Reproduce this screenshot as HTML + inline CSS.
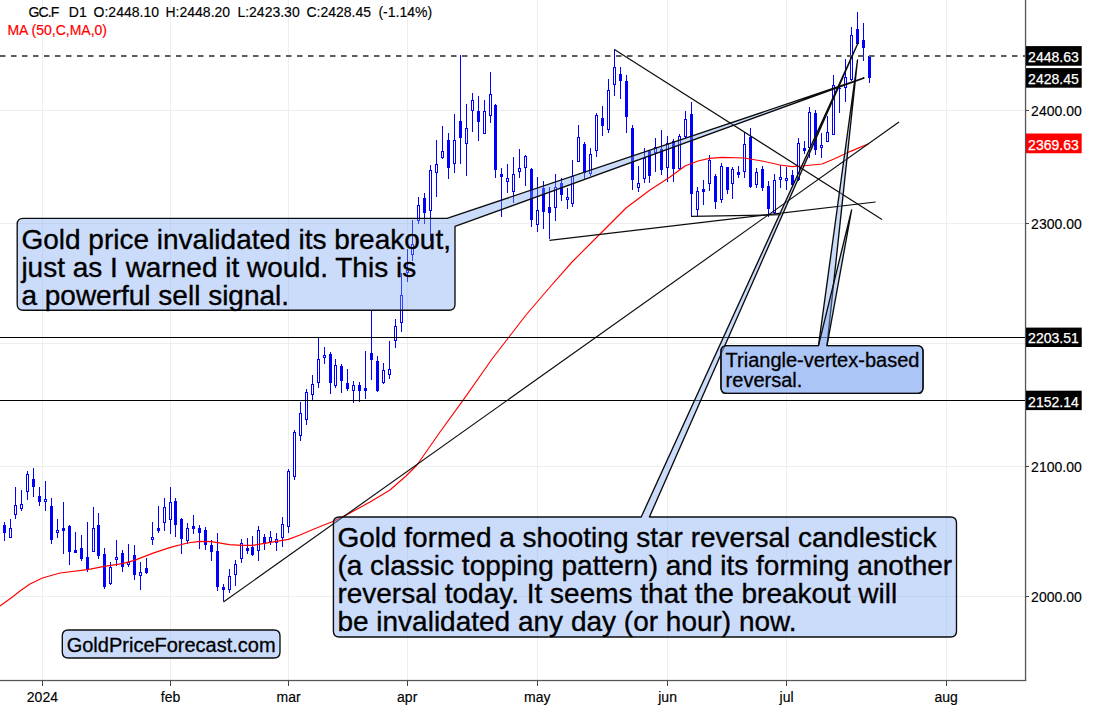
<!DOCTYPE html>
<html lang="en"><head><meta charset="utf-8"><title>GC.F D1 - Gold Price Forecast</title>
<style>html,body{margin:0;padding:0;background:#fff}body{width:1110px;height:710px;overflow:hidden}svg{display:block}text{font-family:"Liberation Sans", Arial, Helvetica, sans-serif}</style></head><body>
<svg width="1110" height="710" viewBox="0 0 1110 710">
<rect width="1110" height="710" fill="#fff"/>
<g fill="#eeeeee" shape-rendering="crispEdges">
<rect x="42" y="0" width="1" height="680"/>
<rect x="170" y="0" width="1" height="680"/>
<rect x="288" y="0" width="1" height="680"/>
<rect x="407" y="0" width="1" height="680"/>
<rect x="537" y="0" width="1" height="680"/>
<rect x="667" y="0" width="1" height="680"/>
<rect x="786" y="0" width="1" height="680"/>
<rect x="946" y="0" width="1" height="680"/>
<rect x="0" y="110" width="1025" height="1"/>
<rect x="0" y="223" width="1025" height="1"/>
<rect x="0" y="343" width="1025" height="1"/>
<rect x="0" y="466" width="1025" height="1"/>
<rect x="0" y="596" width="1025" height="1"/>
</g>
<g shape-rendering="crispEdges" fill="#0000ff">
<rect x="4" y="522" width="1" height="19"/>
<rect x="3" y="525" width="3" height="8"/>
<rect x="10" y="519" width="1" height="19"/>
<rect x="9" y="528" width="3" height="10"/>
<rect x="10" y="529" width="1" height="8" fill="#fff"/>
<rect x="15" y="487" width="1" height="32"/>
<rect x="14" y="505" width="3" height="10"/>
<rect x="15" y="506" width="1" height="8" fill="#fff"/>
<rect x="21" y="490" width="1" height="21"/>
<rect x="20" y="504" width="3" height="5"/>
<rect x="21" y="505" width="1" height="3" fill="#fff"/>
<rect x="27" y="471" width="1" height="29"/>
<rect x="26" y="474" width="3" height="18"/>
<rect x="27" y="475" width="1" height="16" fill="#fff"/>
<rect x="33" y="468" width="1" height="29"/>
<rect x="32" y="479" width="3" height="8"/>
<rect x="39" y="487" width="1" height="19"/>
<rect x="38" y="496" width="3" height="6"/>
<rect x="45" y="481" width="1" height="30"/>
<rect x="44" y="499" width="3" height="3"/>
<rect x="45" y="500" width="1" height="1" fill="#fff"/>
<rect x="51" y="498" width="1" height="46"/>
<rect x="50" y="506" width="3" height="34"/>
<rect x="57" y="519" width="1" height="19"/>
<rect x="56" y="530" width="3" height="3"/>
<rect x="57" y="531" width="1" height="1" fill="#fff"/>
<rect x="63" y="502" width="1" height="52"/>
<rect x="62" y="528" width="3" height="3"/>
<rect x="69" y="525" width="1" height="40"/>
<rect x="68" y="526" width="3" height="26"/>
<rect x="75" y="532" width="1" height="21"/>
<rect x="74" y="550" width="3" height="3"/>
<rect x="81" y="535" width="1" height="26"/>
<rect x="80" y="548" width="3" height="11"/>
<rect x="87" y="522" width="1" height="50"/>
<rect x="86" y="557" width="3" height="13"/>
<rect x="93" y="507" width="1" height="45"/>
<rect x="92" y="528" width="3" height="24"/>
<rect x="93" y="529" width="1" height="22" fill="#fff"/>
<rect x="98" y="513" width="1" height="46"/>
<rect x="97" y="525" width="3" height="31"/>
<rect x="104" y="548" width="1" height="41"/>
<rect x="103" y="554" width="3" height="33"/>
<rect x="110" y="562" width="1" height="23"/>
<rect x="109" y="567" width="3" height="17"/>
<rect x="110" y="568" width="1" height="15" fill="#fff"/>
<rect x="116" y="540" width="1" height="26"/>
<rect x="115" y="557" width="3" height="3"/>
<rect x="116" y="558" width="1" height="1" fill="#fff"/>
<rect x="122" y="550" width="1" height="22"/>
<rect x="121" y="553" width="3" height="14"/>
<rect x="128" y="544" width="1" height="23"/>
<rect x="127" y="562" width="3" height="3"/>
<rect x="128" y="563" width="1" height="1" fill="#fff"/>
<rect x="134" y="545" width="1" height="35"/>
<rect x="133" y="555" width="3" height="20"/>
<rect x="140" y="562" width="1" height="28"/>
<rect x="139" y="572" width="3" height="4"/>
<rect x="140" y="573" width="1" height="2" fill="#fff"/>
<rect x="146" y="558" width="1" height="16"/>
<rect x="145" y="568" width="3" height="5"/>
<rect x="152" y="522" width="1" height="23"/>
<rect x="151" y="537" width="3" height="3"/>
<rect x="152" y="538" width="1" height="1" fill="#fff"/>
<rect x="158" y="506" width="1" height="27"/>
<rect x="157" y="528" width="3" height="3"/>
<rect x="164" y="498" width="1" height="33"/>
<rect x="163" y="507" width="3" height="16"/>
<rect x="164" y="508" width="1" height="14" fill="#fff"/>
<rect x="170" y="487" width="1" height="47"/>
<rect x="169" y="502" width="3" height="18"/>
<rect x="170" y="503" width="1" height="16" fill="#fff"/>
<rect x="175" y="498" width="1" height="39"/>
<rect x="174" y="501" width="3" height="24"/>
<rect x="181" y="518" width="1" height="36"/>
<rect x="180" y="519" width="3" height="20"/>
<rect x="187" y="523" width="1" height="21"/>
<rect x="186" y="528" width="3" height="13"/>
<rect x="187" y="529" width="1" height="11" fill="#fff"/>
<rect x="193" y="515" width="1" height="19"/>
<rect x="192" y="526" width="3" height="3"/>
<rect x="199" y="525" width="1" height="24"/>
<rect x="198" y="528" width="3" height="5"/>
<rect x="205" y="527" width="1" height="23"/>
<rect x="204" y="530" width="3" height="15"/>
<rect x="211" y="540" width="1" height="21"/>
<rect x="210" y="545" width="3" height="7"/>
<rect x="217" y="533" width="1" height="58"/>
<rect x="216" y="551" width="3" height="36"/>
<rect x="223" y="584" width="1" height="17"/>
<rect x="222" y="587" width="3" height="3"/>
<rect x="229" y="569" width="1" height="24"/>
<rect x="228" y="576" width="3" height="14"/>
<rect x="229" y="577" width="1" height="12" fill="#fff"/>
<rect x="235" y="560" width="1" height="26"/>
<rect x="234" y="564" width="3" height="11"/>
<rect x="235" y="565" width="1" height="9" fill="#fff"/>
<rect x="241" y="539" width="1" height="24"/>
<rect x="240" y="543" width="3" height="16"/>
<rect x="241" y="544" width="1" height="14" fill="#fff"/>
<rect x="247" y="538" width="1" height="16"/>
<rect x="246" y="548" width="3" height="3"/>
<rect x="252" y="536" width="1" height="20"/>
<rect x="251" y="547" width="3" height="8"/>
<rect x="258" y="526" width="1" height="35"/>
<rect x="257" y="530" width="3" height="21"/>
<rect x="258" y="531" width="1" height="19" fill="#fff"/>
<rect x="264" y="534" width="1" height="16"/>
<rect x="263" y="537" width="3" height="7"/>
<rect x="270" y="531" width="1" height="14"/>
<rect x="269" y="537" width="3" height="5"/>
<rect x="270" y="538" width="1" height="3" fill="#fff"/>
<rect x="276" y="533" width="1" height="18"/>
<rect x="275" y="539" width="3" height="4"/>
<rect x="276" y="540" width="1" height="2" fill="#fff"/>
<rect x="282" y="517" width="1" height="30"/>
<rect x="281" y="524" width="3" height="14"/>
<rect x="282" y="525" width="1" height="12" fill="#fff"/>
<rect x="288" y="469" width="1" height="64"/>
<rect x="287" y="471" width="3" height="56"/>
<rect x="288" y="472" width="1" height="54" fill="#fff"/>
<rect x="294" y="430" width="1" height="50"/>
<rect x="293" y="432" width="3" height="45"/>
<rect x="294" y="433" width="1" height="43" fill="#fff"/>
<rect x="300" y="402" width="1" height="39"/>
<rect x="299" y="413" width="3" height="23"/>
<rect x="300" y="414" width="1" height="21" fill="#fff"/>
<rect x="306" y="389" width="1" height="36"/>
<rect x="305" y="392" width="3" height="28"/>
<rect x="306" y="393" width="1" height="26" fill="#fff"/>
<rect x="312" y="375" width="1" height="25"/>
<rect x="311" y="384" width="3" height="11"/>
<rect x="312" y="385" width="1" height="9" fill="#fff"/>
<rect x="318" y="338" width="1" height="50"/>
<rect x="317" y="359" width="3" height="24"/>
<rect x="318" y="360" width="1" height="22" fill="#fff"/>
<rect x="324" y="347" width="1" height="17"/>
<rect x="323" y="355" width="3" height="3"/>
<rect x="324" y="356" width="1" height="1" fill="#fff"/>
<rect x="330" y="352" width="1" height="42"/>
<rect x="329" y="354" width="3" height="29"/>
<rect x="335" y="359" width="1" height="29"/>
<rect x="334" y="365" width="3" height="21"/>
<rect x="335" y="366" width="1" height="19" fill="#fff"/>
<rect x="341" y="364" width="1" height="29"/>
<rect x="340" y="366" width="3" height="15"/>
<rect x="347" y="369" width="1" height="22"/>
<rect x="346" y="383" width="3" height="6"/>
<rect x="353" y="381" width="1" height="22"/>
<rect x="352" y="385" width="3" height="6"/>
<rect x="353" y="386" width="1" height="4" fill="#fff"/>
<rect x="359" y="382" width="1" height="20"/>
<rect x="358" y="385" width="3" height="6"/>
<rect x="365" y="351" width="1" height="48"/>
<rect x="364" y="388" width="3" height="3"/>
<rect x="371" y="311" width="1" height="69"/>
<rect x="370" y="353" width="3" height="7"/>
<rect x="377" y="356" width="1" height="36"/>
<rect x="376" y="361" width="3" height="30"/>
<rect x="383" y="363" width="1" height="21"/>
<rect x="382" y="370" width="3" height="13"/>
<rect x="383" y="371" width="1" height="11" fill="#fff"/>
<rect x="389" y="341" width="1" height="38"/>
<rect x="388" y="369" width="3" height="6"/>
<rect x="389" y="370" width="1" height="4" fill="#fff"/>
<rect x="395" y="319" width="1" height="29"/>
<rect x="394" y="326" width="3" height="15"/>
<rect x="395" y="327" width="1" height="13" fill="#fff"/>
<rect x="401" y="273" width="1" height="59"/>
<rect x="400" y="295" width="3" height="28"/>
<rect x="401" y="296" width="1" height="26" fill="#fff"/>
<rect x="407" y="249" width="1" height="33"/>
<rect x="406" y="270" width="3" height="3"/>
<rect x="407" y="271" width="1" height="1" fill="#fff"/>
<rect x="412" y="220" width="1" height="41"/>
<rect x="411" y="244" width="3" height="11"/>
<rect x="412" y="245" width="1" height="9" fill="#fff"/>
<rect x="418" y="197" width="1" height="27"/>
<rect x="417" y="205" width="3" height="16"/>
<rect x="418" y="206" width="1" height="14" fill="#fff"/>
<rect x="424" y="193" width="1" height="31"/>
<rect x="423" y="198" width="3" height="15"/>
<rect x="430" y="165" width="1" height="76"/>
<rect x="429" y="170" width="3" height="41"/>
<rect x="430" y="171" width="1" height="39" fill="#fff"/>
<rect x="436" y="140" width="1" height="57"/>
<rect x="435" y="164" width="3" height="9"/>
<rect x="436" y="165" width="1" height="7" fill="#fff"/>
<rect x="442" y="126" width="1" height="33"/>
<rect x="441" y="151" width="3" height="7"/>
<rect x="442" y="152" width="1" height="5" fill="#fff"/>
<rect x="448" y="133" width="1" height="46"/>
<rect x="447" y="140" width="3" height="28"/>
<rect x="454" y="114" width="1" height="59"/>
<rect x="453" y="140" width="3" height="24"/>
<rect x="454" y="141" width="1" height="22" fill="#fff"/>
<rect x="460" y="55" width="1" height="109"/>
<rect x="459" y="121" width="3" height="17"/>
<rect x="466" y="104" width="1" height="72"/>
<rect x="465" y="128" width="3" height="16"/>
<rect x="466" y="129" width="1" height="14" fill="#fff"/>
<rect x="472" y="93" width="1" height="39"/>
<rect x="471" y="100" width="3" height="11"/>
<rect x="472" y="101" width="1" height="9" fill="#fff"/>
<rect x="478" y="96" width="1" height="45"/>
<rect x="477" y="111" width="3" height="11"/>
<rect x="484" y="100" width="1" height="34"/>
<rect x="483" y="111" width="3" height="23"/>
<rect x="484" y="112" width="1" height="21" fill="#fff"/>
<rect x="490" y="72" width="1" height="51"/>
<rect x="489" y="94" width="3" height="22"/>
<rect x="490" y="95" width="1" height="20" fill="#fff"/>
<rect x="495" y="104" width="1" height="74"/>
<rect x="494" y="105" width="3" height="65"/>
<rect x="501" y="168" width="1" height="49"/>
<rect x="500" y="174" width="3" height="3"/>
<rect x="507" y="164" width="1" height="29"/>
<rect x="506" y="178" width="3" height="4"/>
<rect x="507" y="179" width="1" height="2" fill="#fff"/>
<rect x="513" y="157" width="1" height="46"/>
<rect x="512" y="174" width="3" height="18"/>
<rect x="513" y="175" width="1" height="16" fill="#fff"/>
<rect x="519" y="149" width="1" height="29"/>
<rect x="518" y="168" width="3" height="4"/>
<rect x="519" y="169" width="1" height="2" fill="#fff"/>
<rect x="525" y="155" width="1" height="31"/>
<rect x="524" y="156" width="3" height="12"/>
<rect x="525" y="157" width="1" height="10" fill="#fff"/>
<rect x="531" y="168" width="1" height="59"/>
<rect x="530" y="169" width="3" height="51"/>
<rect x="537" y="177" width="1" height="55"/>
<rect x="536" y="210" width="3" height="15"/>
<rect x="537" y="211" width="1" height="13" fill="#fff"/>
<rect x="543" y="181" width="1" height="48"/>
<rect x="542" y="188" width="3" height="24"/>
<rect x="549" y="187" width="1" height="52"/>
<rect x="548" y="207" width="3" height="6"/>
<rect x="555" y="174" width="1" height="47"/>
<rect x="554" y="187" width="3" height="21"/>
<rect x="555" y="188" width="1" height="19" fill="#fff"/>
<rect x="561" y="178" width="1" height="23"/>
<rect x="560" y="183" width="3" height="12"/>
<rect x="567" y="188" width="1" height="21"/>
<rect x="566" y="197" width="3" height="3"/>
<rect x="567" y="198" width="1" height="1" fill="#fff"/>
<rect x="572" y="160" width="1" height="47"/>
<rect x="571" y="176" width="3" height="28"/>
<rect x="572" y="177" width="1" height="26" fill="#fff"/>
<rect x="578" y="125" width="1" height="37"/>
<rect x="577" y="137" width="3" height="25"/>
<rect x="578" y="138" width="1" height="23" fill="#fff"/>
<rect x="584" y="142" width="1" height="37"/>
<rect x="583" y="144" width="3" height="29"/>
<rect x="590" y="148" width="1" height="28"/>
<rect x="589" y="154" width="3" height="20"/>
<rect x="590" y="155" width="1" height="18" fill="#fff"/>
<rect x="596" y="113" width="1" height="44"/>
<rect x="595" y="115" width="3" height="36"/>
<rect x="596" y="116" width="1" height="34" fill="#fff"/>
<rect x="602" y="106" width="1" height="30"/>
<rect x="601" y="118" width="3" height="8"/>
<rect x="608" y="79" width="1" height="54"/>
<rect x="607" y="90" width="3" height="40"/>
<rect x="608" y="91" width="1" height="38" fill="#fff"/>
<rect x="614" y="49" width="1" height="47"/>
<rect x="613" y="67" width="3" height="18"/>
<rect x="614" y="68" width="1" height="16" fill="#fff"/>
<rect x="620" y="67" width="1" height="32"/>
<rect x="619" y="74" width="3" height="7"/>
<rect x="626" y="75" width="1" height="58"/>
<rect x="625" y="81" width="3" height="36"/>
<rect x="632" y="125" width="1" height="65"/>
<rect x="631" y="128" width="3" height="52"/>
<rect x="638" y="166" width="1" height="26"/>
<rect x="637" y="183" width="3" height="5"/>
<rect x="638" y="184" width="1" height="3" fill="#fff"/>
<rect x="644" y="148" width="1" height="35"/>
<rect x="643" y="158" width="3" height="21"/>
<rect x="644" y="159" width="1" height="19" fill="#fff"/>
<rect x="649" y="150" width="1" height="33"/>
<rect x="648" y="151" width="3" height="25"/>
<rect x="655" y="138" width="1" height="34"/>
<rect x="654" y="147" width="3" height="6"/>
<rect x="655" y="148" width="1" height="4" fill="#fff"/>
<rect x="661" y="130" width="1" height="45"/>
<rect x="660" y="149" width="3" height="21"/>
<rect x="667" y="136" width="1" height="46"/>
<rect x="666" y="143" width="3" height="25"/>
<rect x="667" y="144" width="1" height="23" fill="#fff"/>
<rect x="673" y="139" width="1" height="43"/>
<rect x="672" y="141" width="3" height="28"/>
<rect x="679" y="134" width="1" height="36"/>
<rect x="678" y="136" width="3" height="33"/>
<rect x="679" y="137" width="1" height="31" fill="#fff"/>
<rect x="685" y="111" width="1" height="28"/>
<rect x="684" y="119" width="3" height="18"/>
<rect x="685" y="120" width="1" height="16" fill="#fff"/>
<rect x="691" y="102" width="1" height="115"/>
<rect x="690" y="114" width="3" height="80"/>
<rect x="697" y="187" width="1" height="30"/>
<rect x="696" y="191" width="3" height="19"/>
<rect x="697" y="192" width="1" height="17" fill="#fff"/>
<rect x="703" y="180" width="1" height="25"/>
<rect x="702" y="189" width="3" height="3"/>
<rect x="709" y="155" width="1" height="36"/>
<rect x="708" y="160" width="3" height="24"/>
<rect x="709" y="161" width="1" height="22" fill="#fff"/>
<rect x="715" y="174" width="1" height="35"/>
<rect x="714" y="176" width="3" height="26"/>
<rect x="721" y="163" width="1" height="40"/>
<rect x="720" y="166" width="3" height="34"/>
<rect x="721" y="167" width="1" height="32" fill="#fff"/>
<rect x="727" y="167" width="1" height="27"/>
<rect x="726" y="167" width="3" height="23"/>
<rect x="732" y="167" width="1" height="32"/>
<rect x="731" y="169" width="3" height="15"/>
<rect x="732" y="170" width="1" height="13" fill="#fff"/>
<rect x="738" y="166" width="1" height="12"/>
<rect x="737" y="172" width="3" height="3"/>
<rect x="744" y="132" width="1" height="46"/>
<rect x="743" y="144" width="3" height="28"/>
<rect x="744" y="145" width="1" height="26" fill="#fff"/>
<rect x="750" y="128" width="1" height="60"/>
<rect x="749" y="137" width="3" height="50"/>
<rect x="756" y="168" width="1" height="20"/>
<rect x="755" y="172" width="3" height="13"/>
<rect x="756" y="173" width="1" height="11" fill="#fff"/>
<rect x="762" y="166" width="1" height="25"/>
<rect x="761" y="169" width="3" height="19"/>
<rect x="768" y="181" width="1" height="36"/>
<rect x="767" y="186" width="3" height="23"/>
<rect x="774" y="174" width="1" height="40"/>
<rect x="773" y="180" width="3" height="33"/>
<rect x="774" y="181" width="1" height="31" fill="#fff"/>
<rect x="780" y="165" width="1" height="23"/>
<rect x="779" y="177" width="3" height="3"/>
<rect x="780" y="178" width="1" height="1" fill="#fff"/>
<rect x="786" y="167" width="1" height="23"/>
<rect x="785" y="178" width="3" height="3"/>
<rect x="786" y="179" width="1" height="1" fill="#fff"/>
<rect x="792" y="170" width="1" height="16"/>
<rect x="791" y="175" width="3" height="10"/>
<rect x="798" y="138" width="1" height="43"/>
<rect x="797" y="143" width="3" height="37"/>
<rect x="798" y="144" width="1" height="35" fill="#fff"/>
<rect x="804" y="141" width="1" height="13"/>
<rect x="803" y="148" width="3" height="3"/>
<rect x="809" y="107" width="1" height="51"/>
<rect x="808" y="112" width="3" height="36"/>
<rect x="809" y="113" width="1" height="34" fill="#fff"/>
<rect x="815" y="110" width="1" height="45"/>
<rect x="814" y="113" width="3" height="37"/>
<rect x="821" y="133" width="1" height="25"/>
<rect x="820" y="145" width="3" height="3"/>
<rect x="821" y="146" width="1" height="1" fill="#fff"/>
<rect x="827" y="116" width="1" height="26"/>
<rect x="826" y="132" width="3" height="10"/>
<rect x="827" y="133" width="1" height="8" fill="#fff"/>
<rect x="833" y="75" width="1" height="60"/>
<rect x="832" y="85" width="3" height="50"/>
<rect x="833" y="86" width="1" height="48" fill="#fff"/>
<rect x="839" y="87" width="1" height="26"/>
<rect x="838" y="88" width="3" height="1"/>
<rect x="845" y="59" width="1" height="43"/>
<rect x="844" y="77" width="3" height="11"/>
<rect x="845" y="78" width="1" height="9" fill="#fff"/>
<rect x="851" y="27" width="1" height="54"/>
<rect x="850" y="35" width="3" height="45"/>
<rect x="851" y="36" width="1" height="43" fill="#fff"/>
<rect x="857" y="12" width="1" height="32"/>
<rect x="856" y="29" width="3" height="15"/>
<rect x="863" y="23" width="1" height="38"/>
<rect x="862" y="40" width="3" height="8"/>
<rect x="869" y="56" width="1" height="27"/>
<rect x="868" y="56" width="3" height="22"/>
</g>
<polyline fill="none" stroke="#ff0000" stroke-width="1.15" stroke-linejoin="round" points="0.0,606.0 12.4,597.0 20.0,591.0 30.0,584.0 42.4,578.0 60.0,573.0 87.4,569.6 104.4,566.4 122.4,563.6 134.4,560.4 152.4,553.4 170.4,547.4 187.4,543.0 199.4,541.4 211.4,541.6 217.4,542.6 229.4,544.6 241.4,545.4 252.4,545.4 264.4,543.4 276.4,541.4 288.4,539.4 300.0,535.0 314.0,529.0 334.0,521.0 350.0,513.0 370.0,502.0 390.0,490.0 406.0,476.0 417.0,465.0 440.0,432.0 463.0,400.4 492.0,359.0 509.0,337.0 526.0,315.0 550.0,287.0 572.0,262.0 599.0,235.0 626.0,208.0 650.0,190.0 670.0,177.0 685.0,166.0 698.0,161.0 709.4,158.4 722.0,157.4 744.0,158.0 762.0,161.0 780.0,165.0 792.0,166.6 802.0,166.0 822.0,164.0 834.0,159.0 850.0,151.6 869.0,143.5"/>
<line x1="0" y1="56" x2="1025" y2="56" stroke="#5c5c5c" stroke-width="2" stroke-dasharray="5.5 5.5"/>
<g fill="#000" shape-rendering="crispEdges"><rect x="0" y="337" width="1025" height="1"/><rect x="0" y="400" width="1025" height="1"/></g>
<g stroke="#0c0c0c" stroke-width="1.15" fill="none" stroke-linecap="butt">
<line x1="223.4" y1="602.0" x2="899.0" y2="122.0"/>
<line x1="614.4" y1="49.4" x2="882.0" y2="219.6"/>
<line x1="549.4" y1="240.4" x2="875.6" y2="202.0"/>
<line x1="691.4" y1="216.4" x2="781.0" y2="214.8"/>
</g>
<path d="M23.2,218.4 L447.0,218.4 L864.0,78.0 L455.0,226.4 L455.0,304.2 Q455.0,310.2 449.0,310.2 L23.2,310.2 Q17.2,310.2 17.2,304.2 L17.2,224.4 Q17.2,218.4 23.2,218.4 Z" fill="rgba(125,165,242,0.4)" stroke="#0c0c0c" stroke-width="1.35" stroke-linejoin="round"/>
<path d="M339.4,517.0 L641.2,517.0 L858.0,43.0 L649.4,517.0 L950.5,517.0 Q956.5,517.0 956.5,523.0 L956.5,631.0 Q956.5,637.0 950.5,637.0 L339.4,637.0 Q333.4,637.0 333.4,631.0 L333.4,523.0 Q333.4,517.0 339.4,517.0 Z" fill="rgba(125,165,242,0.4)" stroke="#0c0c0c" stroke-width="1.35" stroke-linejoin="round"/>
<path d="M727.0,345.6 L818.5,345.6 L857.5,60.0 L827.0,345.6 L917.0,345.6 Q923.0,345.6 923.0,351.6 L923.0,387.4 Q923.0,393.4 917.0,393.4 L727.0,393.4 Q721.0,393.4 721.0,387.4 L721.0,351.6 Q721.0,345.6 727.0,345.6 Z" fill="rgba(125,165,242,0.4)" stroke="#0c0c0c" stroke-width="1.35" stroke-linejoin="round"/>
<path d="M727.0,345.6 L818.5,345.6 L851.6,210.0 L827.0,345.6 L917.0,345.6 Q923.0,345.6 923.0,351.6 L923.0,387.4 Q923.0,393.4 917.0,393.4 L727.0,393.4 Q721.0,393.4 721.0,387.4 L721.0,351.6 Q721.0,345.6 727.0,345.6 Z" fill="rgba(125,165,242,0.4)" stroke="#0c0c0c" stroke-width="1.35" stroke-linejoin="round"/>
<path d="M68.3,630.0 L274.0,630.0 Q280.0,630.0 280.0,636.0 L280.0,652.0 Q280.0,658.0 274.0,658.0 L68.3,658.0 Q62.3,658.0 62.3,652.0 L62.3,636.0 Q62.3,630.0 68.3,630.0 Z" fill="rgba(125,165,242,0.4)" stroke="#0c0c0c" stroke-width="1.35" stroke-linejoin="round"/>
<text x="21.4" y="248.5" font-size="28" fill="#000" text-anchor="start" stroke="#000" stroke-width="0.35">Gold price invalidated its breakout,</text>
<text x="21.4" y="276.5" font-size="28" fill="#000" text-anchor="start" stroke="#000" stroke-width="0.35">just as I warned it would. This is</text>
<text x="21.4" y="304.5" font-size="28" fill="#000" text-anchor="start" stroke="#000" stroke-width="0.35">a powerful sell signal.</text>
<text x="337.4" y="546.6" font-size="28" fill="#000" text-anchor="start" stroke="#000" stroke-width="0.35">Gold formed a shooting star reversal candlestick</text>
<text x="337.4" y="574.6" font-size="28" fill="#000" text-anchor="start" stroke="#000" stroke-width="0.35">(a classic topping pattern) and its forming another</text>
<text x="337.4" y="602.6" font-size="28" fill="#000" text-anchor="start" stroke="#000" stroke-width="0.35">reversal today. It seems that the breakout will</text>
<text x="337.4" y="630.6" font-size="28" fill="#000" text-anchor="start" stroke="#000" stroke-width="0.35">be invalidated any day (or hour) now.</text>
<text x="725.6" y="367.4" font-size="20" fill="#000" text-anchor="start" stroke="#000" stroke-width="0.3">Triangle-vertex-based</text>
<text x="725.6" y="387.4" font-size="20" fill="#000" text-anchor="start" stroke="#000" stroke-width="0.3">reversal.</text>
<text x="66.7" y="652.2" font-size="20" fill="#000" text-anchor="start" stroke="#000" stroke-width="0.3">GoldPriceForecast.com</text>
<rect x="1026" y="0" width="84" height="710" fill="#fff"/>
<rect x="0" y="681" width="1110" height="29" fill="#fff"/>
<g fill="#444" shape-rendering="crispEdges">
<rect x="1024.9" y="0" width="1.3" height="681" shape-rendering="auto" fill="#555"/>
<rect x="0" y="679.9" width="1026.2" height="1.25" shape-rendering="auto" fill="#555"/>
<rect x="1026" y="110" width="3" height="1"/>
<rect x="1026" y="223" width="3" height="1"/>
<rect x="1026" y="466" width="3" height="1"/>
<rect x="1026" y="596" width="3" height="1"/>
<rect x="42" y="681" width="1" height="5"/>
<rect x="170" y="681" width="1" height="5"/>
<rect x="288" y="681" width="1" height="5"/>
<rect x="407" y="681" width="1" height="5"/>
<rect x="537" y="681" width="1" height="5"/>
<rect x="667" y="681" width="1" height="5"/>
<rect x="786" y="681" width="1" height="5"/>
<rect x="946" y="681" width="1" height="5"/>
</g>
<text x="1031.1" y="115.5" font-size="14" fill="#000" text-anchor="start" stroke="#000" stroke-width="0.15">2400.00</text>
<text x="1031.1" y="228.5" font-size="14" fill="#000" text-anchor="start" stroke="#000" stroke-width="0.15">2300.00</text>
<text x="1031.1" y="347.3" font-size="14" fill="#000" text-anchor="start" stroke="#000" stroke-width="0.15">2200.00</text>
<text x="1031.1" y="471.5" font-size="14" fill="#000" text-anchor="start" stroke="#000" stroke-width="0.15">2100.00</text>
<text x="1031.1" y="601.8" font-size="14" fill="#000" text-anchor="start" stroke="#000" stroke-width="0.15">2000.00</text>
<rect x="1026.0" y="46.10" width="55.7" height="19.60" fill="#000"/>
<text x="1028.1" y="61.6" font-size="14" fill="#fff" text-anchor="start" stroke="#fff" stroke-width="0.25">2448.63</text>
<rect x="1026.0" y="68.10" width="55.7" height="19.60" fill="#000"/>
<text x="1028.1" y="84.0" font-size="14" fill="#fff" text-anchor="start" stroke="#fff" stroke-width="0.25">2428.45</text>
<rect x="1026.0" y="133.50" width="55.7" height="19.75" fill="#ff0000"/>
<text x="1028.1" y="149.9" font-size="14" fill="#fff" text-anchor="start" stroke="#fff" stroke-width="0.25">2369.63</text>
<rect x="1026.0" y="327.60" width="55.7" height="19.40" fill="#000"/>
<text x="1028.1" y="343.4" font-size="14" fill="#fff" text-anchor="start" stroke="#fff" stroke-width="0.25">2203.51</text>
<rect x="1026.0" y="390.70" width="55.7" height="19.40" fill="#000"/>
<text x="1028.1" y="406.7" font-size="14" fill="#fff" text-anchor="start" stroke="#fff" stroke-width="0.25">2152.14</text>
<text x="42.4" y="702.3" font-size="14" fill="#000" text-anchor="middle" stroke="#000" stroke-width="0.15">2024</text>
<text x="170.5" y="702.3" font-size="14" fill="#000" text-anchor="middle" stroke="#000" stroke-width="0.15">feb</text>
<text x="288.6" y="702.3" font-size="14" fill="#000" text-anchor="middle" stroke="#000" stroke-width="0.15">mar</text>
<text x="407.2" y="702.3" font-size="14" fill="#000" text-anchor="middle" stroke="#000" stroke-width="0.15">apr</text>
<text x="537.3" y="702.3" font-size="14" fill="#000" text-anchor="middle" stroke="#000" stroke-width="0.15">may</text>
<text x="667.6" y="702.3" font-size="14" fill="#000" text-anchor="middle" stroke="#000" stroke-width="0.15">jun</text>
<text x="786.6" y="702.3" font-size="14" fill="#000" text-anchor="middle" stroke="#000" stroke-width="0.15">jul</text>
<text x="946.1" y="702.3" font-size="14" fill="#000" text-anchor="middle" stroke="#000" stroke-width="0.15">aug</text>
<text x="28.6" y="16.6" font-size="14" fill="#000" text-anchor="start" textLength="30.6" stroke="#000" stroke-width="0.15">GC.F</text>
<text x="68.8" y="16.6" font-size="14" fill="#000" text-anchor="start" stroke="#000" stroke-width="0.15">D1</text>
<text x="93.6" y="16.6" font-size="14" fill="#000" text-anchor="start" stroke="#000" stroke-width="0.15">O:2448.10</text>
<text x="165.5" y="16.6" font-size="14" fill="#000" text-anchor="start" stroke="#000" stroke-width="0.15">H:2448.20</text>
<text x="237.4" y="16.6" font-size="14" fill="#000" text-anchor="start" stroke="#000" stroke-width="0.15">L:2423.30</text>
<text x="306.4" y="16.6" font-size="14" fill="#000" text-anchor="start" stroke="#000" stroke-width="0.15">C:2428.45</text>
<text x="378.4" y="16.6" font-size="14" fill="#000" text-anchor="start" stroke="#000" stroke-width="0.15">(-1.14%)</text>
<text x="7.4" y="35.0" font-size="14" fill="#ff0000" text-anchor="start" stroke="#ff0000" stroke-width="0.2">MA (50,C,MA,0)</text>
</svg></body></html>
